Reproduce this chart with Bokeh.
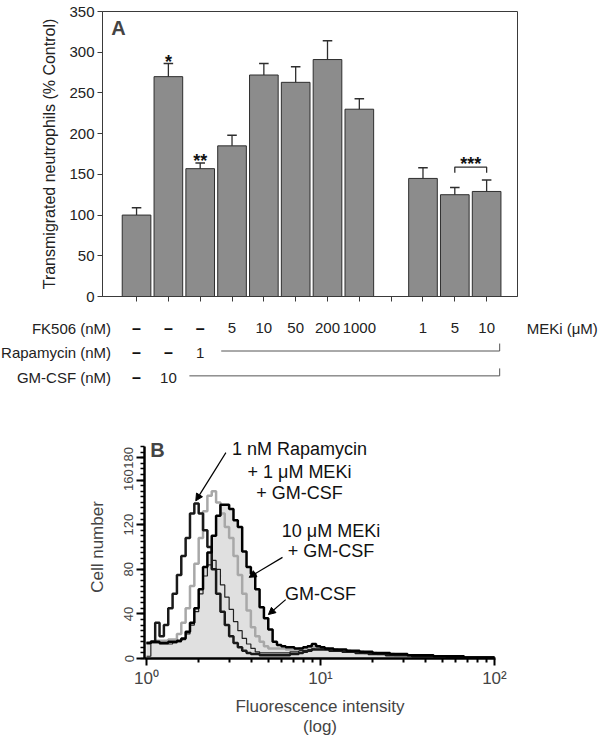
import numpy as np
from bokeh.plotting import figure
from bokeh.models import Range1d, FixedTicker, Label, Arrow, NormalHead, ColumnDataSource
from bokeh.layouts import column
from bokeh.embed import file_html
from bokeh.resources import INLINE
from bokeh.core.properties import value

FONT = "Liberation Sans"

# ---------------- Panel A data ----------------
bar_positions = [1, 2, 3, 4, 5, 6, 7, 8, 10, 11, 12]
bar_values = [100, 270, 157, 185, 272, 263, 291, 230, 145, 125, 129]
bar_errors = [9, 16, 7, 13, 14, 19, 23, 13, 13, 9, 14]
tick_positions = list(range(1, 13))
y_ticks_A = [0, 50, 100, 150, 200, 250, 300, 350]
fk506_labels = ["–", "–", "–", "5", "10", "50", "200", "1000", "", "1", "5", "10"]
rapamycin_labels = ["–", "–", "1"]
gmcsf_labels = ["–", "10"]
row_names = ["FK506 (nM)", "Rapamycin (nM)", "GM-CSF (nM)"]
sig_positions = [2, 3]
sig_texts = ["*", "**"]
bracket_pair = [11, 12]
bracket_text = "***"

# ---------------- Panel B data (histograms, 1/40-decade channels from 10^0 to 10^2) ----------------
rapa_meki_gm = [14, 15, 32, 20, 30, 45, 58, 75, 92, 108, 130, 139, 130, 115, 100, 80, 58, 42, 30, 20,
                14, 10, 7, 5, 4, 4, 3, 3, 3, 3, 3, 3, 3, 4, 4, 5, 6, 7, 8, 8,
                8, 8, 7, 7, 7, 6, 6, 6, 5, 5, 5, 4, 4, 4, 4, 3, 3, 3, 3, 3,
                3, 2, 2, 2, 2, 2, 2, 2, 2, 1, 1, 1, 1, 1, 1, 1, 1, 1, 1, 1]
gray_curve = [14, 15, 16, 16, 16, 17, 17, 22, 32, 45, 65, 85, 108, 132, 146, 150, 140, 130, 118, 108,
              92, 75, 58, 43, 28, 20, 15, 11, 9, 9, 9, 9, 8, 8, 8, 9, 9, 10, 10, 9,
              9, 8, 8, 8, 7, 7, 7, 6, 6, 6, 5, 5, 5, 4, 4, 4, 4, 3, 3, 3,
              3, 3, 3, 2, 2, 2, 2, 2, 2, 2, 1, 1, 1, 1, 1, 1, 1, 1, 1, 1]
gmcsf_curve = [14, 15, 15, 14, 14, 15, 15, 16, 18, 24, 32, 45, 62, 82, 95, 110, 128, 138, 138, 134,
               124, 118, 96, 82, 76, 62, 46, 36, 26, 15, 12, 11, 10, 10, 9, 9, 10, 11, 13, 11,
               10, 9, 9, 8, 8, 8, 7, 7, 7, 6, 6, 6, 5, 5, 5, 5, 4, 4, 4, 4,
               3, 3, 3, 3, 3, 3, 2, 2, 2, 2, 2, 2, 2, 1, 1, 1, 1, 1, 1, 1]
thin_curve = [2, 14, 14, 13, 13, 13, 14, 15, 17, 22, 30, 42, 58, 74, 84, 88, 80, 66, 55, 44,
              33, 25, 18, 13, 9, 6, 5, 5, 5, 5, 5, 5, 5, 6, 6, 7, 7, 8, 9, 10,
              9, 9, 8, 8, 7, 7, 6, 6, 6, 5, 5, 5, 4, 4, 4, 4, 3, 3, 3, 3,
              3, 3, 2, 2, 2, 2, 2, 2, 2, 2, 1, 1, 1, 1, 1, 1, 1, 1, 1, 1]
channels_per_decade = 40
y_ticks_B = [0, 40, 80, 120, 160, 180]
x_ticks_B = [1, 10, 100]
x_tick_labels_B = {1: "10⁰", 10: "10¹", 100: "10²"}

W = 604


def no_align(p):
    if "frame_align" in p.properties():
        p.frame_align = False


# ================= Panel A (bars) =================
A_LEFT, A_FW, A_TOP, A_FH, A_BOT = 102, 415, 11, 285, 10
xa0, xa1 = -0.07, 12.97
pA = figure(width=W, height=A_TOP + A_FH + A_BOT, x_range=Range1d(xa0, xa1), y_range=Range1d(0, 350),
            output_backend="svg", toolbar_location=None,
            min_border_left=A_LEFT, min_border_right=W - A_LEFT - A_FW,
            min_border_top=A_TOP, min_border_bottom=A_BOT)
no_align(pA)
pA.grid.visible = False
pA.outline_line_color = "#3a3a3a"
pA.outline_line_width = 1

err_top = [v + e for v, e in zip(bar_values, bar_errors)]
srcA = ColumnDataSource(dict(x=bar_positions, top=bar_values, et=err_top,
                             cl=[x - 0.15 for x in bar_positions], cr=[x + 0.15 for x in bar_positions]))
pA.vbar(x="x", top="top", width=0.9, bottom=0, source=srcA, fill_color="#8c8c8c",
        line_color="#2e2e2e", line_width=1)
pA.segment(x0="x", y0="top", x1="x", y1="et", source=srcA, line_color="#2e2e2e", line_width=1.3)
pA.segment(x0="cl", y0="et", x1="cr", y1="et", source=srcA, line_color="#2e2e2e", line_width=1.5)

sig_y = [err_top[bar_positions.index(p)] + 2 for p in sig_positions]
pA.text(x=sig_positions, y=sig_y, text=sig_texts, text_align="center", text_baseline="alphabetic",
        text_font=value(FONT), text_font_size="18px", text_font_style="bold", text_color="#111")
br_level = 159
br_drop = 7
pA.line(x=[bracket_pair[0], bracket_pair[0], bracket_pair[1], bracket_pair[1]],
        y=[br_level - br_drop, br_level, br_level, br_level - br_drop], line_color="#2e2e2e", line_width=1.3)
pA.text(x=[sum(bracket_pair) / 2], y=[br_level + 4], text=[bracket_text], text_align="center",
        text_baseline="alphabetic", text_font=value(FONT), text_font_size="18px",
        text_font_style="bold", text_color="#111")

pA.add_layout(Label(x=0.43, y=330, text="A", text_font=FONT, text_font_size="20px",
                    text_font_style="bold", text_align="center", text_baseline="middle"))

pA.xaxis.ticker = FixedTicker(ticks=tick_positions)
pA.xaxis.major_label_overrides = {t: "" for t in tick_positions}
pA.xaxis.major_label_text_font_size = "1px"
pA.xaxis.major_label_standoff = 0
pA.xaxis.major_tick_out = 5
pA.xaxis.major_tick_in = 0
pA.xaxis.minor_tick_out = 0
pA.xaxis.axis_line_color = "#3a3a3a"
pA.xaxis.major_tick_line_color = "#3a3a3a"

pA.yaxis.ticker = FixedTicker(ticks=y_ticks_A)
pA.yaxis.major_tick_out = 5
pA.yaxis.major_tick_in = 0
pA.yaxis.minor_tick_out = 0
pA.yaxis.minor_tick_in = 0
pA.yaxis.major_label_standoff = 3
pA.yaxis.major_label_text_font = FONT
pA.yaxis.major_label_text_font_size = "15px"
pA.yaxis.major_label_text_color = "#222"
pA.yaxis.axis_line_color = "#3a3a3a"
pA.yaxis.major_tick_line_color = "#3a3a3a"
pA.yaxis.axis_label = "Transmigrated neutrophils (% Control)"
pA.yaxis.axis_label_text_font = FONT
pA.yaxis.axis_label_text_font_size = "16px"
pA.yaxis.axis_label_text_font_style = "normal"
pA.yaxis.axis_label_text_color = "#222"
pA.yaxis.axis_label_standoff = 8

# ================= Panel A table (treatments) =================
s = A_FW / (xa1 - xa0)
t0 = xa0 - A_LEFT / s
t1 = xa1 + (W - A_LEFT - A_FW) / s
T_H = 90
pT = figure(width=W, height=T_H, x_range=Range1d(t0, t1), y_range=Range1d(0.25, 3.87),
            output_backend="svg", toolbar_location=None,
            min_border_left=0, min_border_right=0, min_border_top=0, min_border_bottom=0)
no_align(pT)
pT.axis.visible = False
pT.grid.visible = False
pT.outline_line_color = None

rows_y = [3, 2, 1]
row_label_x = 0.2
pT.text(x=[row_label_x] * 3, y=rows_y, text=row_names, text_align="right", text_baseline="middle",
        text_font=value(FONT), text_font_size="15px", text_color="#222")

dash_x, dash_y, num_x, num_y, num_t = [], [], [], [], []
for labels, yy in zip([fk506_labels, rapamycin_labels, gmcsf_labels], rows_y):
    for pos, lab in zip(tick_positions, labels):
        if lab == "–":
            dash_x.append(pos); dash_y.append(yy)
        elif lab:
            num_x.append(pos); num_y.append(yy); num_t.append(lab)
pT.text(x=dash_x, y=dash_y, text=["–"] * len(dash_x), text_align="center", text_baseline="middle",
        text_font=value(FONT), text_font_size="16px", text_font_style="bold", text_color="#111")
pT.text(x=num_x, y=num_y, text=num_t, text_align="center", text_baseline="middle",
        text_font=value(FONT), text_font_size="15px", text_color="#222")
meki_x = tick_positions[-1] + 1.26
pT.text(x=[meki_x], y=[3], text=["MEKi (μM)"], text_align="left", text_baseline="middle",
        text_font=value(FONT), text_font_size="15px", text_color="#222")

line_end = tick_positions[-1] + 0.41
for start, yy in [(3.66, 2), (2.66, 1)]:
    ly = yy + 0.08
    pT.line(x=[start, line_end, line_end], y=[ly, ly, ly + 0.3], line_color="#555", line_width=1)

# ================= Panel B (histograms) =================
B_LEFT, B_FW, B_TOP, B_FH, B_BOT = 144, 351, 39, 223, 83
pB = figure(width=W, height=B_TOP + B_FH + B_BOT, x_axis_type="log",
            x_range=Range1d(0.974, 101.4), y_range=Range1d(0, 200),
            output_backend="svg", toolbar_location=None,
            min_border_left=B_LEFT, min_border_right=W - B_LEFT - B_FW,
            min_border_top=B_TOP, min_border_bottom=B_BOT)
no_align(pB)
pB.grid.visible = False
pB.outline_line_color = None

n = len(gmcsf_curve)
edges = 10 ** (np.arange(n + 1) / channels_per_decade)


def ext(v):
    return list(v) + [v[-1]]


pB.varea_step(x=edges, y1=0, y2=ext(gmcsf_curve), step_mode="after", fill_color="#e0e0e0")
pB.step(edges, ext(thin_curve), mode="after", line_color="#222", line_width=1.2)
pB.step(edges, ext(gray_curve), mode="after", line_color="#a8a8a8", line_width=2.5)
pB.step(edges, ext(rapa_meki_gm), mode="after", line_color="#1a1a1a", line_width=2.5)
pB.step(edges, ext(gmcsf_curve), mode="after", line_color="#000", line_width=2.5)

for txt, x, y in [("1 nM Rapamycin", 7.57, 188), ("+ 1 μM MEKi", 7.57, 167), ("+ GM-CSF", 7.57, 148.6),
                  ("10 μM MEKi", 11.49, 114.6), ("+ GM-CSF", 11.49, 96.7), ("GM-CSF", 10.0, 58.2)]:
    pB.add_layout(Label(x=x, y=y, text=txt, text_font=FONT, text_font_size="18px",
                        text_align="center", text_baseline="middle", text_color="#111"))
pB.add_layout(Label(x=1.157, y=187, text="B", text_font=FONT, text_font_size="20px",
                    text_font_style="bold", text_align="center", text_baseline="middle"))

for xs, ys, xe, ye in [(2.86, 184.7, 1.92, 141.4), (6.05, 90.7, 3.89, 72.8), (6.31, 52.8, 5.02, 39.4)]:
    pB.add_layout(Arrow(end=NormalHead(size=7, fill_color="black", line_color="black"),
                        x_start=xs, y_start=ys, x_end=xe, y_end=ye, line_width=1.2, line_color="black"))

pB.xaxis.ticker = FixedTicker(ticks=x_ticks_B,
                              minor_ticks=[m * d for d in (1, 10) for m in range(2, 10)])
pB.xaxis.major_label_overrides = x_tick_labels_B
pB.xaxis.major_label_text_font = FONT
pB.xaxis.major_label_text_font_size = "17px"
pB.xaxis.major_label_standoff = 3
pB.xaxis.major_tick_out = 7
pB.xaxis.major_tick_in = 0
pB.xaxis.minor_tick_out = 4
pB.xaxis.minor_tick_in = 0
pB.xaxis.axis_line_width = 2.5
pB.xaxis.major_tick_line_width = 2
pB.xaxis.minor_tick_line_width = 2
pB.xaxis.axis_label = "Fluorescence intensity\n(log)"
pB.xaxis.axis_label_text_font = FONT
pB.xaxis.axis_label_text_font_size = "17px"
pB.xaxis.axis_label_text_line_height = 1.1
pB.xaxis.axis_label_text_font_style = "normal"
pB.xaxis.axis_label_standoff = 6

pB.yaxis.bounds = (0, 190)
pB.yaxis.ticker = FixedTicker(ticks=y_ticks_B, minor_ticks=list(range(0, 191, 5)))
pB.yaxis.major_label_orientation = "vertical"
pB.yaxis.major_label_text_font = FONT
pB.yaxis.major_label_text_font_size = "13px"
pB.yaxis.major_label_standoff = 3
pB.yaxis.major_tick_out = 8
pB.yaxis.major_tick_in = 0
pB.yaxis.minor_tick_out = 4
pB.yaxis.minor_tick_in = 0
pB.yaxis.axis_line_width = 2.5
pB.yaxis.major_tick_line_width = 2
pB.yaxis.minor_tick_line_width = 1.5
pB.yaxis.axis_label = "Cell number"
pB.yaxis.axis_label_text_font = FONT
pB.yaxis.axis_label_text_font_size = "17px"
pB.yaxis.axis_label_text_font_style = "normal"
pB.yaxis.axis_label_standoff = 15

layout = column(pA, pT, pB)
open("out.html", "w").write(file_html(layout, INLINE))
